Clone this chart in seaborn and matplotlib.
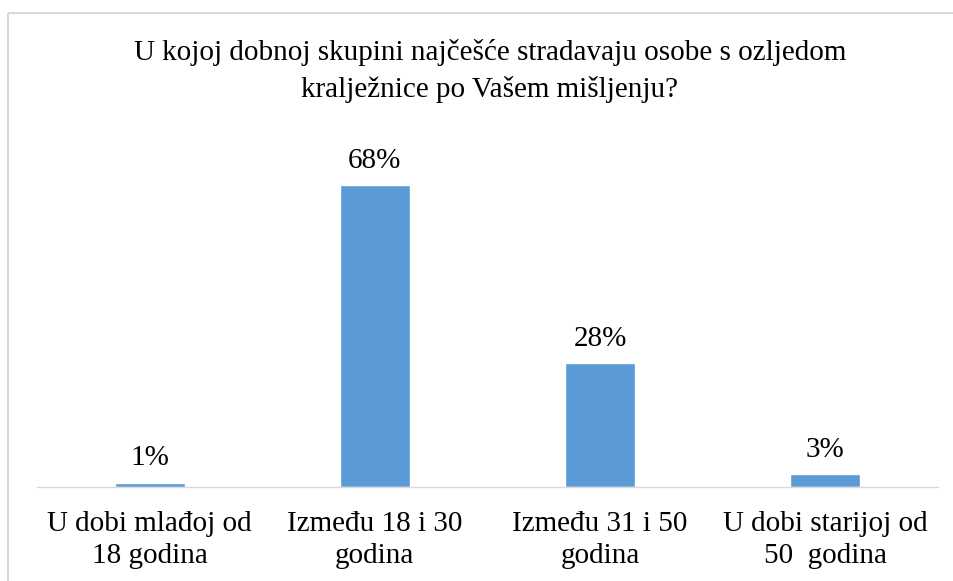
import matplotlib
matplotlib.use("Agg")
import matplotlib.pyplot as plt
import seaborn as sns
import pandas as pd
from matplotlib.lines import Line2D

categories = ["U dobi mlađoj od\n18 godina", "Između 18 i 30\ngodina",
              "Između 31 i 50\ngodina", "U dobi starijoj od\n50  godina"]
values = [1, 68, 28, 3]
labels = ["1%", "68%", "28%", "3%"]
title = "U kojoj dobnoj skupini najčešće stradavaju osobe s ozljedom\nkralježnice po Vašem mišljenju?"

sns.set_theme(style="white")
plt.rcParams['font.family'] = ['Liberation Serif', 'DejaVu Serif']

df = pd.DataFrame({"cat": categories, "val": values})

fig = plt.figure(figsize=(9.54, 5.81), dpi=100, facecolor="white",
                 edgecolor="white", linewidth=0)
ax = fig.add_axes([0.0388, 0.1618, 0.9444, 0.596])
sns.barplot(data=df, x="cat", y="val", color="#5B9BD5", width=0.31,
            saturation=1, ax=ax)
ax.set_ylim(0, 78)
ax.set_xlim(-0.5, 3.5)
ax.set_xlabel("")
ax.set_ylabel("")
ax.set_yticks([])
for s in ["top", "right", "left"]:
    ax.spines[s].set_visible(False)
ax.spines["bottom"].set_color("#D9D9D9")
ax.spines["bottom"].set_linewidth(1.0)
ax.tick_params(axis="x", length=0, pad=17, labelsize=21, colors="black")
for t in ax.get_xticklabels():
    t.set_linespacing(1.3)

for i, (v, l) in enumerate(zip(values, labels)):
    ax.annotate(l, (i, v), xytext=(0, 8), textcoords="offset points",
                ha="center", va="bottom", fontsize=21, color="black")

fig.text(0.5136, 1 - 71 / 581, title, ha="center", va="center", fontsize=21,
         linespacing=1.5, color="black")

x0 = 8.5 / 954
y0 = 1 - 12.5 / 581
fig.add_artist(Line2D([x0, x0], [0, y0], transform=fig.transFigure,
                      color="#D9D9D9", linewidth=1.5, solid_capstyle="butt"))
fig.add_artist(Line2D([x0, 1.0], [y0, y0], transform=fig.transFigure,
                      color="#D9D9D9", linewidth=1.5, solid_capstyle="butt"))

fig.savefig("out.png", dpi=100, facecolor="white", edgecolor="white")
